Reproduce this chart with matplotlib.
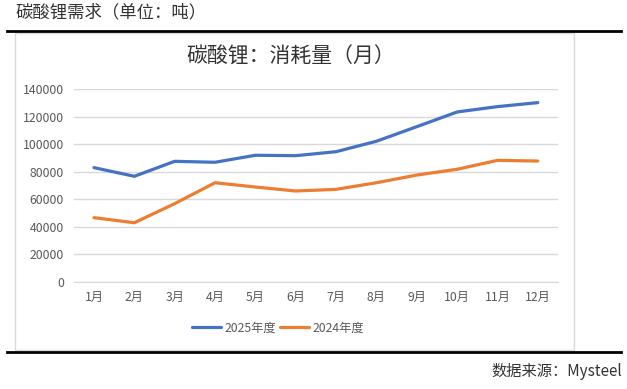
import matplotlib.pyplot as plt
from matplotlib.lines import Line2D
from matplotlib.patches import Rectangle

plt.rcParams["font.family"] = ["Noto Sans CJK SC", "DejaVu Sans"]

months = ["1月", "2月", "3月", "4月", "5月", "6月",
          "7月", "8月", "9月", "10月", "11月", "12月"]
demand_2025 = [83000, 76700, 87600, 86900, 92000, 91700,
               94600, 102200, 112800, 123500, 127400, 130300]
demand_2024 = [46600, 42900, 56800, 72000, 68900, 66000,
               67200, 72000, 77600, 81800, 88300, 87800]
y_ticks = [0, 20000, 40000, 60000, 80000, 100000, 120000, 140000]

W, H = 627, 389
fig = plt.figure(figsize=(W / 100, H / 100), dpi=100)

# page header and rules
fig.text(15 / W, 1 - 12 / H, "碳酸锂需求（单位：吨）", fontsize=12.5,
         color="#333333", ha="left", va="center")
fig.add_artist(Line2D([7 / W, 621 / W], [1 - 31 / H, 1 - 31 / H],
                      color="black", lw=2))
fig.add_artist(Line2D([7 / W, 621 / W], [1 - 352 / H, 1 - 352 / H],
                      color="black", lw=2))
fig.text(622 / W, 1 - 372 / H, "数据来源：Mysteel", fontsize=11,
         color="#333333", ha="right", va="center")

# chart frame
fig.add_artist(Rectangle((15 / W, 1 - 350 / H), (574 - 15) / W, (350 - 33) / H,
                         facecolor="white", edgecolor="#D9D9D9", lw=1,
                         zorder=-1))

fig.text(291 / W, 1 - 57 / H, "碳酸锂：消耗量（月）", fontsize=15,
         color="#333333", ha="center", va="center")

ax = fig.add_axes([73.8 / W, 1 - 281.7 / H, (558 - 73.8) / W, (281.7 - 89.3) / H])
ax.patch.set_alpha(0)
x = range(len(months))
ax.plot(x, demand_2025, color="#4472C4", lw=2.3, label="2025年度",
        solid_capstyle="round", solid_joinstyle="round")
ax.plot(x, demand_2024, color="#ED7D31", lw=2.3, label="2024年度",
        solid_capstyle="round", solid_joinstyle="round")

ax.set_xlim(-0.5, len(months) - 0.5)
ax.set_ylim(0, 140000)
ax.set_yticks(y_ticks)
ax.set_yticklabels([str(v) for v in y_ticks])
ax.set_xticks(list(x))
ax.set_xticklabels(months)
ax.tick_params(axis="both", length=0, labelsize=8.8, colors="#595959")
ax.tick_params(axis="y", pad=7)
ax.tick_params(axis="x", pad=7)
ax.grid(axis="y", color="#D9D9D9", lw=1)
ax.set_axisbelow(True)
for side in ["top", "right", "left"]:
    ax.spines[side].set_visible(False)
ax.spines["bottom"].set_color("#D9D9D9")

leg = fig.legend(loc="center", bbox_to_anchor=(278 / W, 1 - 328 / H), ncol=2,
                 frameon=False, fontsize=8.8, handlelength=2.4,
                 handletextpad=0.3, columnspacing=0.3)
for t in leg.get_texts():
    t.set_color("#595959")

fig.savefig("out.png", dpi=100)
